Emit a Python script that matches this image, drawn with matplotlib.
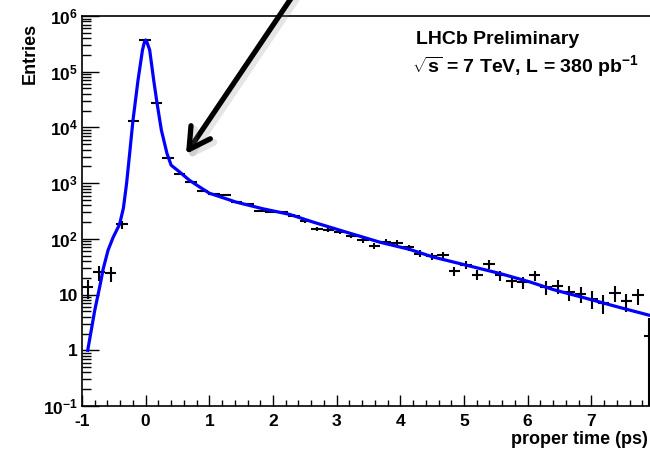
import numpy as np
import matplotlib
matplotlib.use('Agg')
import matplotlib.pyplot as plt
import matplotlib.ticker as mticker
import matplotlib.patheffects as pe

plt.rcParams['font.family'] = ['Liberation Sans', 'DejaVu Sans']
plt.rcParams['font.weight'] = 'bold'
plt.rcParams['axes.unicode_minus'] = False
plt.rcParams['mathtext.fontset'] = 'custom'
plt.rcParams['mathtext.rm'] = 'Liberation Sans:bold'
plt.rcParams['mathtext.it'] = 'Liberation Sans:bold'
plt.rcParams['mathtext.bf'] = 'Liberation Sans:bold'

# 50 bins of 0.18 ps from -1 to 8 ps
bin_lo = -1.0
bin_w = 0.18
entries = [13.4, 25, 24, 183, 12900, 368000, 27200, 2800, 1445, 1040,
           716, 634, 606, 454, 418, 317, 304, 304, 258, 210,
           149, 143, 133, 113, 94, 75, 88, 86, 70, 54.5,
           49.3, 50.8, 26.5, 34.6, 22.9, 35, 22.2, 17.5, 16.8, 22.2,
           13.7, 14.1, 11.1, 10.4, 8.5, 7.1, 10.7, 7.6, 9.7, 1.8]
errors = [5, 7.5, 7.5, 30, 114, 607, 165, 53, 38, 32,
          27, 25, 25, 21, 20, 18, 17, 17, 16, 14.5,
          12, 12, 11.5, 10.6, 9.7, 8.7, 9.4, 9.3, 8.4, 7.4,
          7, 7.1, 5.1, 5.9, 4.8, 5.9, 4.7, 4.2, 4.1, 4.7,
          3.7, 3.8, 3.3, 3.2, 2.9, 2.7, 3.3, 2.8, 3.1, 2.0]

# fitted decay-time model
fit_t = [-0.91, -0.80, -0.71, -0.67, -0.59, -0.51, -0.41, -0.35, -0.30, -0.25,
         -0.20, -0.12, -0.05, -0.02, 0.0, 0.02, 0.063, 0.126, 0.178, 0.247,
         0.335, 0.40, 0.535, 0.69, 0.85, 1.0, 1.42, 1.84, 2.26, 2.63,
         3.15, 3.68, 4.14, 4.52, 5.04, 5.57, 6.04, 6.40, 6.93, 7.45, 8.0]
fit_y = [1, 5.2, 16, 28, 63, 107, 182, 355, 980, 3550,
         13200, 70800, 245000, 339000, 372000, 339000, 245000, 70800, 27500, 8900,
         3400, 2100, 1580, 1120, 850, 660, 457, 347, 275, 200,
         132, 87, 65, 47, 33.6, 23.8, 16.8, 12.3, 8.5, 5.85, 4.0]

decades = [1e-1, 1, 10, 1e2, 1e3, 1e4, 1e5, 1e6]
decade_labels = ['$10^{-1}$', '1', '10', '$10^{2}$', '$10^{3}$', '$10^{4}$', '$10^{5}$', '$10^{6}$']

centers = bin_lo + bin_w * (np.arange(len(entries)) + 0.5)

fig = plt.figure(figsize=(6.5, 4.51), dpi=100)
ax = fig.add_axes([82 / 650, 45 / 451, 573 / 650, 390 / 451])

ax.errorbar(centers, entries, xerr=bin_w / 2, yerr=errors, fmt='none',
            ecolor='black', elinewidth=1.5, capsize=0, zorder=3)
ax.plot(fit_t, fit_y, color='#0000ff', lw=2.3, zorder=4)

ax.set_yscale('log')
ax.set_xlim(-1, 8)
ax.set_ylim(0.1, 1e6)

ax.yaxis.set_major_locator(mticker.FixedLocator(decades))
ax.yaxis.set_major_formatter(mticker.FixedFormatter(decade_labels))
ax.yaxis.set_minor_locator(mticker.LogLocator(base=10, subs=np.arange(2, 10), numticks=20))
ax.yaxis.set_minor_formatter(mticker.NullFormatter())
ax.xaxis.set_major_locator(mticker.FixedLocator(np.arange(-1, 8)))
ax.xaxis.set_minor_locator(mticker.MultipleLocator(0.2))

ax.tick_params(axis='both', which='both', direction='in', width=1, labelsize=12.5)
ax.tick_params(axis='x', which='major', length=8, pad=5.5)
ax.tick_params(axis='x', which='minor', length=4.3)
ax.tick_params(axis='y', which='major', length=12, pad=3)
ax.tick_params(axis='y', which='minor', length=6.5)
for lab in ax.get_xticklabels() + ax.get_yticklabels():
    lab.set_fontweight('bold')
for sp in ax.spines.values():
    sp.set_linewidth(1.2)

fig.text(30 / 650, 1 - 53 / 451, 'Entries', rotation=90, ha='center', va='center',
         fontsize=13, fontweight='bold')
fig.text(648 / 650, 1 - 439 / 451, 'proper time (ps)', ha='right', va='center',
         fontsize=13, fontweight='bold')

fig.text(416 / 650, 1 - 39 / 451, 'LHCb Preliminary', ha='left', va='center',
         fontsize=14, fontweight='bold')
fig.text(412 / 650, 1 - 66 / 451, r'$\sqrt{s}$ = 7 TeV, L = 380 pb$^{-1}$',
         ha='left', va='center', fontsize=14, fontweight='bold')

# pointer arrow with soft shadow
ax.annotate('', xy=(186, 451 - 154), xytext=(294, 451 + 6),
            xycoords='figure pixels', textcoords='figure pixels',
            annotation_clip=False,
            arrowprops=dict(arrowstyle='->,head_length=0.75,head_width=0.42',
                            mutation_scale=20, lw=3.8, color='black',
                            shrinkA=0, shrinkB=0,
                            path_effects=[pe.SimpleLineShadow(offset=(2.5, -2.5), shadow_color='gray',
                                                              alpha=0.2, linewidth=5),
                                          pe.Normal()]))

plt.savefig('out.png', dpi=100)
